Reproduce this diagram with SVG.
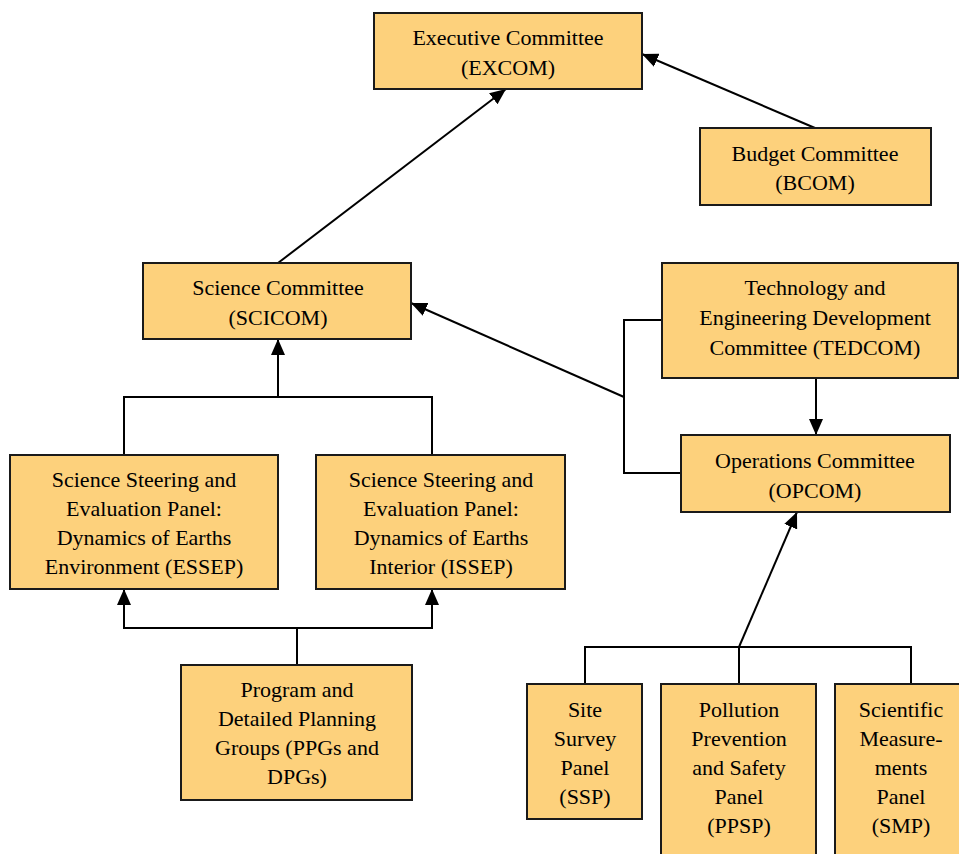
<svg xmlns="http://www.w3.org/2000/svg" width="959" height="854" viewBox="0 0 959 854">
<style>
.box{fill:#FDD17C;stroke:#1a1a1a;stroke-width:2}
text{font-family:'Liberation Serif',serif;font-size:22px;fill:#000;text-anchor:middle}
.c{fill:none;stroke:#000;stroke-width:2}
</style>
<defs>
<marker id="a" viewBox="0 0 16 14" refX="16" refY="7" markerWidth="16" markerHeight="14" markerUnits="userSpaceOnUse" orient="auto"><path d="M0,0 L16,7 L0,14 Z" fill="#000"/></marker>
</defs>
<rect width="959" height="854" fill="#fff"/>
<g id="connectors">
<path class="c" d="M278,263 L506,89" marker-end="url(#a)"/>
<path class="c" d="M815,128 L642,54" marker-end="url(#a)"/>
<path class="c" d="M124,455 V397 H432 V455 M278,397 V339" marker-end="url(#a)"/>
<path class="c" d="M662,320 H624 V473 H681"/>
<path class="c" d="M624,397 L411,303" marker-end="url(#a)"/>
<path class="c" d="M816,378 V435" marker-end="url(#a)"/>
<path class="c" d="M297,665 V628 H124 V589" marker-end="url(#a)"/>
<path class="c" d="M297,628 H432 V589" marker-end="url(#a)"/>
<path class="c" d="M585,684 V647 H911 V684 M739,684 V647"/>
<path class="c" d="M739,647 L797,512" marker-end="url(#a)"/>
</g>
<g id="excom"><rect class="box" x="374" y="13" width="268" height="76"/><text x="508" y="45" font-family="Liberation Serif">Executive Committee</text><text x="508" y="75">(EXCOM)</text></g>
<g id="bcom"><rect class="box" x="700" y="128" width="231" height="77"/><text x="815" y="161">Budget Committee</text><text x="815" y="190">(BCOM)</text></g>
<g id="scicom"><rect class="box" x="143" y="263" width="268" height="76"/><text x="278" y="295">Science Committee</text><text x="278" y="325">(SCICOM)</text></g>
<g id="tedcom"><rect class="box" x="662" y="263" width="296" height="115"/><text x="815" y="295">Technology and</text><text x="815" y="325">Engineering Development</text><text x="815" y="355">Committee (TEDCOM)</text></g>
<g id="opcom"><rect class="box" x="681" y="435" width="269" height="77"/><text x="815" y="468">Operations Committee</text><text x="815" y="498">(OPCOM)</text></g>
<g id="essep"><rect class="box" x="10" y="455" width="268" height="134"/><text x="144" y="487">Science Steering and</text><text x="144" y="516">Evaluation Panel:</text><text x="144" y="545">Dynamics of Earths</text><text x="144" y="574">Environment (ESSEP)</text></g>
<g id="issep"><rect class="box" x="316" y="455" width="249" height="134"/><text x="441" y="487">Science Steering and</text><text x="441" y="516">Evaluation Panel:</text><text x="441" y="545">Dynamics of Earths</text><text x="441" y="574">Interior (ISSEP)</text></g>
<g id="ppg"><rect class="box" x="181" y="665" width="231" height="135"/><text x="297" y="697">Program and</text><text x="297" y="726">Detailed Planning</text><text x="297" y="755">Groups (PPGs and</text><text x="297" y="784">DPGs)</text></g>
<g id="ssp"><rect class="box" x="527" y="684" width="115" height="135"/><text x="585" y="717">Site</text><text x="585" y="746">Survey</text><text x="585" y="775">Panel</text><text x="585" y="804">(SSP)</text></g>
<g id="ppsp"><rect class="box" x="661" y="684" width="155" height="180"/><text x="739" y="717">Pollution</text><text x="739" y="746">Prevention</text><text x="739" y="775">and Safety</text><text x="739" y="804">Panel</text><text x="739" y="833">(PPSP)</text></g>
<g id="smp"><rect class="box" x="835" y="684" width="135" height="180"/><text x="901" y="717">Scientific</text><text x="901" y="746">Measure-</text><text x="901" y="775">ments</text><text x="901" y="804">Panel</text><text x="901" y="833">(SMP)</text></g>
</svg>
